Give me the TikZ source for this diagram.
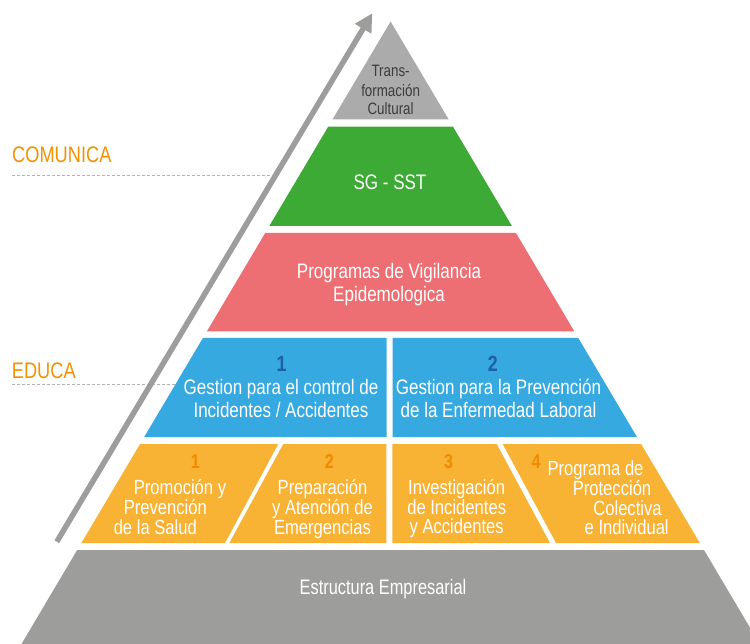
\documentclass[tikz,border=0pt]{standalone}
\usepackage{fontspec}
\setmainfont{Liberation Sans}[FakeStretch=0.81]
\newfontfamily\basefont{Liberation Sans}[FakeStretch=0.78]
\usetikzlibrary{arrows.meta}
\definecolor{topgray}{HTML}{ABABAB}
\definecolor{pgreen}{HTML}{3CAA35}
\definecolor{pred}{HTML}{ED6E73}
\definecolor{pblue}{HTML}{36A9E1}
\definecolor{numblue}{HTML}{1F5FA8}
\definecolor{porange}{HTML}{F8B234}
\definecolor{numorange}{HTML}{F08A00}
\definecolor{basegray}{HTML}{9D9D9C}
\definecolor{labelorange}{HTML}{F39200}
\definecolor{dashgray}{HTML}{B2B2B2}
\definecolor{darktext}{HTML}{3C3C3B}
\tikzset{
  wtxt/.style={text=white, inner sep=0pt, anchor=base, font=\fontsize{21}{21}\selectfont},
  otxt/.style={text=white, inner sep=0pt, anchor=base, font=\fontsize{20.5}{20}\selectfont},
  toptxt/.style={text=darktext, inner sep=0pt, anchor=base, font=\fontsize{16.5}{16}\selectfont},
  basetxt/.style={text=white, inner sep=0pt, anchor=base, font=\basefont\fontsize{21}{20}\selectfont},
  bnum/.style={text=numblue, inner sep=0pt, anchor=base, font=\fontsize{22}{22}\selectfont\bfseries},
  onum/.style={text=numorange, inner sep=0pt, anchor=base, font=\fontsize{20}{20}\selectfont\bfseries},
  lbl/.style={text=labelorange, inner sep=0pt, anchor=base west, font=\fontsize{22.5}{22.5}\selectfont},
  guide/.style={draw=dashgray, line width=1pt, dash pattern=on 3pt off 2pt},
  growarrow/.style={draw=basegray, line width=5.5pt, -{Triangle[length=18pt,width=18pt]}},
}
\begin{document}
\begin{tikzpicture}[x=1pt,y=-1pt]
\useasboundingbox (0,0) rectangle (750,644);
\clip (0,0) rectangle (750,644);
\fill[white] (0,0) rectangle (750,644);

% tiers
\fill[topgray] (390.6,21.5) -- (448.6,119.3) -- (332.6,119.3) -- cycle;
\fill[pgreen] (328.2,126.7) -- (453.0,126.7) -- (511.9,226) -- (269.3,226) -- cycle;
\fill[pred] (265.2,233) -- (516.0,233) -- (574.4,331.5) -- (206.8,331.5) -- cycle;
\fill[pblue] (202.9,338) -- (386.7,338) -- (386.7,437) -- (144.2,437) -- cycle;
\fill[pblue] (392.7,338) -- (578.3,338) -- (637.0,437) -- (392.7,437) -- cycle;
\fill[porange] (140.1,444) -- (278.3,444) -- (225.0,543) -- (81.4,543) -- cycle;
\fill[porange] (283.3,444) -- (386.3,444) -- (386.3,543) -- (229.3,543) -- cycle;
\fill[porange] (392.3,444) -- (496.7,444) -- (550.0,543) -- (392.3,543) -- cycle;
\fill[porange] (502.7,444) -- (641.1,444) -- (699.8,543) -- (556.0,543) -- cycle;
\fill[basegray] (77.2,550) -- (704.0,550) -- (759.7,644) -- (21.5,644) -- cycle;

% side labels and guides
\node[lbl] (comunica) at (12,162.3) {COMUNICA};
\node[lbl] (educa) at (11.7,378.3) {EDUCA};
\coordinate (g1a) at (12,175.7);
\coordinate (g1b) at (272,175.7);
\coordinate (g2a) at (12,385);
\coordinate (g2b) at (176,385);
\draw[guide] (g1a) -- (g1b);
\draw[guide] (g2a) -- (g2b);

% growth arrow
\coordinate (atail) at (56.8,541.7);
\coordinate (atip) at (372.3,13.3);
\draw[growarrow] (atail) -- (atip);

% top
\node[toptxt] (tc1) at (390.6,76.7) {Trans-};
\node[toptxt] (tc2) at (390.6,96.2) {formación};
\node[toptxt] (tc3) at (390.6,115) {Cultural};

% green
\node[wtxt] (sgsst) at (390,189.3) {SG - SST};

% red
\node[wtxt] (pv1) at (389,278.3) {Programas de Vigilancia};
\node[wtxt] (pv2) at (389,301.7) {Epidemologica};

% blue
\node[bnum] (b1n) at (281.7,371.7) {1};
\node[wtxt] (b1a) at (281,395) {Gestion para el control de};
\node[wtxt] (b1b) at (281,417.5) {Incidentes / Accidentes};
\node[bnum] (b2n) at (492.8,371.7) {2};
\node[wtxt] (b2a) at (498.5,395) {Gestion para la Prevención};
\node[wtxt] (b2b) at (498.5,417.5) {de la Enfermedad Laboral};

% orange 1
\node[onum] (o1n) at (195.3,468.3) {1};
\node[otxt] (o1a) at (180,494) {Promoción y};
\node[otxt] (o1b) at (165.3,514) {Prevención};
\node[otxt] (o1c) at (155.3,534.3) {de la Salud};
% orange 2
\node[onum] (o2n) at (329.5,468.3) {2};
\node[otxt] (o2a) at (322.5,494) {Preparación};
\node[otxt] (o2b) at (322.5,514) {y Atención de};
\node[otxt] (o2c) at (322.5,534.3) {Emergencias};
% orange 3
\node[onum] (o3n) at (448.7,468.3) {3};
\node[otxt] (o3a) at (456.7,494.5) {Investigación};
\node[otxt] (o3b) at (456.7,514) {de Incidentes};
\node[otxt] (o3c) at (456.7,533.5) {y Accidentes};
% orange 4
\node[onum] (o4n) at (536.2,468.3) {4};
\node[otxt] (o4a) at (595.5,475) {Programa de};
\node[otxt] (o4b) at (612,495) {Protección};
\node[otxt] (o4c) at (627.5,515) {Colectiva};
\node[otxt] (o4d) at (626.7,534.3) {e Individual};

% base
\node[basetxt] (base) at (383,594.3) {Estructura Empresarial};
\end{tikzpicture}
\end{document}
